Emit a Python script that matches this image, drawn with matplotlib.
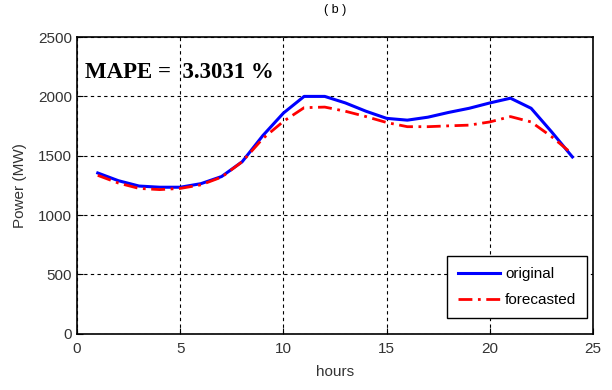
import matplotlib
matplotlib.use("Agg")
import matplotlib.pyplot as plt

hours = list(range(1, 25))
original = [1355, 1290, 1245, 1235, 1235, 1265, 1325, 1450, 1670, 1860, 2000, 2000,
            1945, 1875, 1815, 1800, 1825, 1865, 1900, 1945, 1985, 1900, 1700, 1490]
forecasted = [1335, 1270, 1225, 1215, 1225, 1255, 1320, 1450, 1645, 1790, 1905, 1910,
              1875, 1830, 1780, 1745, 1745, 1752, 1758, 1785, 1830, 1785, 1660, 1515]
xticks = [0, 5, 10, 15, 20, 25]
yticks = [0, 500, 1000, 1500, 2000, 2500]

plt.rcParams['font.family'] = ['Liberation Sans', 'DejaVu Sans']

fig = plt.figure(figsize=(6.12, 3.9), dpi=100)
ax = fig.add_axes([0.126, 0.144, 0.843, 0.761])

ax.plot(hours, original, color='blue', lw=2.2, label='original', zorder=3)
ax.plot(hours, forecasted, color='red', lw=2.0, ls=(0, (5, 2, 1, 2)), label='forecasted', zorder=3)

ax.set_xlim(0, 25)
ax.set_ylim(0, 2500)
ax.set_xticks(xticks)
ax.set_yticks(yticks)
ax.tick_params(direction='in', labelsize=11, length=4, color='black', labelcolor='#333333')
ax.tick_params(axis='x', pad=6)
ax.grid(True, color='black', ls=(0, (3, 3)), lw=0.8)
for s in ax.spines.values():
    s.set_linewidth(1.2)

ax.set_xlabel('hours', fontsize=11, labelpad=6, color='#333333')
ax.set_ylabel('Power (MW)', fontsize=11, color='#333333', labelpad=8)
ax.set_title('( b )', fontsize=9, pad=17)

ax.text(0.016, 0.88, 'MAPE =  3.3031 %', transform=ax.transAxes, fontsize=16.5,
        fontweight='bold', family='Liberation Serif', va='center', ha='left')

leg = ax.legend(loc='lower right', fontsize=11, frameon=True, fancybox=False,
                edgecolor='black', framealpha=1, handlelength=2.8, handletextpad=0.3,
                borderpad=0.7, borderaxespad=0, labelspacing=0.8,
                bbox_to_anchor=(0.988, 0.054))
leg.get_frame().set_linewidth(1.0)

fig.savefig('out.png', dpi=100)
